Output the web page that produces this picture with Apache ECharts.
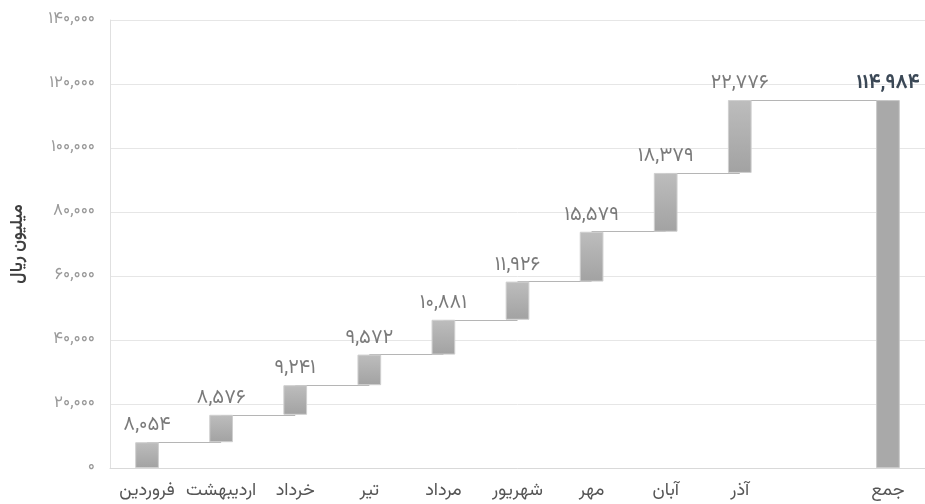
<!DOCTYPE html>
<html>
<head>
<meta charset="utf-8">
<script src="https://cdn.jsdelivr.net/npm/echarts@6/dist/echarts.min.js"></script>
<style>
html,body{margin:0;padding:0;background:#fff;}
#chart{width:925px;height:504px;}
</style>
</head>
<body>
<div id="chart"></div>
<script>
const categories = ['فروردین','اردیبهشت','خرداد','تیر','مرداد','شهریور','مهر','آبان','آذر','','جمع'];
const monthValues = [8054, 8576, 9241, 9572, 10881, 11926, 15579, 18379, 22776];
const totalValue = 114984;
const yTicks = [0, 20000, 40000, 60000, 80000, 100000, 120000, 140000];
const yAxisName = 'میلیون ریال';

const faDigits = '۰۱۲۳۴۵۶۷۸۹';
function toFa(n){
  const s = Math.round(n).toString().replace(/\B(?=(\d{3})+(?!\d))/g, ',');
  return s.replace(/\d/g, d => faDigits[+d]);
}

// build waterfall stacks
const baseData = [];
const valData = [];
const cum = [];
let run = 0;
monthValues.forEach((v,i) => { baseData.push(run); run += v; cum.push(run); valData.push(v); });
baseData.push('-'); valData.push('-');
baseData.push(0); valData.push(totalValue);

const connectors = [];
for (let i = 0; i < monthValues.length; i++) {
  const next = (i === monthValues.length - 1) ? categories.length - 1 : i + 1;
  connectors.push([{coord:[i, cum[i]]},{coord:[next, cum[i]]}]);
}

const font = "Vazirmatn, 'Noto Sans Arabic', 'Noto Naskh Arabic', 'DejaVu Sans', sans-serif";
const monthGrad = {type:'linear',x:0,y:0,x2:0,y2:1,colorStops:[{offset:0,color:'#bdbdbd'},{offset:1,color:'#a2a2a2'}]};

const chart = echarts.init(document.getElementById('chart'), null, {renderer:'canvas'});
chart.setOption({
  animation:false,
  backgroundColor:'#ffffff',
  textStyle:{fontFamily:font},
  grid:{left:110,right:-4,top:20,bottom:36,containLabel:false},
  xAxis:{
    type:'category',
    data:categories,
    axisLine:{lineStyle:{color:'#d9d9d9'}},
    axisTick:{show:false},
    axisLabel:{color:'#555',fontSize:18,fontFamily:font,margin:15,interval:0}
  },
  yAxis:{
    type:'value',
    min:yTicks[0],
    max:yTicks[yTicks.length-1],
    interval:yTicks[1]-yTicks[0],
    name:yAxisName,
    nameLocation:'middle',
    nameRotate:90,
    nameGap:82,
    nameTextStyle:{color:'#3f3f3f',fontSize:17,fontWeight:'bold',fontFamily:font},
    axisLine:{show:true,lineStyle:{color:'#e0e0e0'}},
    axisTick:{show:false},
    splitLine:{lineStyle:{color:'#e6e6e6'}},
    axisLabel:{color:'#9a9a9a',fontSize:17,fontFamily:font,margin:15,formatter:v=>toFa(v)}
  },
  series:[
    {
      type:'bar',
      stack:'w',
      data:baseData,
      itemStyle:{color:'transparent'},
      barWidth:'32%',
      silent:true,
      z:2
    },
    {
      type:'bar',
      stack:'w',
      data:valData.map((v,i)=> i===valData.length-1 ? {
        value:v,
        itemStyle:{color:'#a9a9a9',borderColor:'#c9c9c9',borderWidth:1},
        label:{color:'#3b4856',fontWeight:'bold'}
      } : v),
      barWidth:'32%',
      itemStyle:{color:monthGrad,borderColor:'#cfcfcf',borderWidth:1},
      label:{
        show:true,
        position:'top',
        distance:5,
        color:'#7a7a7a',
        fontSize:20,
        fontFamily:font,
        formatter:p=>toFa(p.value)
      },
      markLine:{
        silent:true,
        symbol:['none','none'],
        label:{show:false},
        lineStyle:{color:'#b5b5b5',width:1,type:'solid'},
        data:connectors,
        z:1
      },
      z:3
    }
  ]
});
</script>
</body>
</html>
